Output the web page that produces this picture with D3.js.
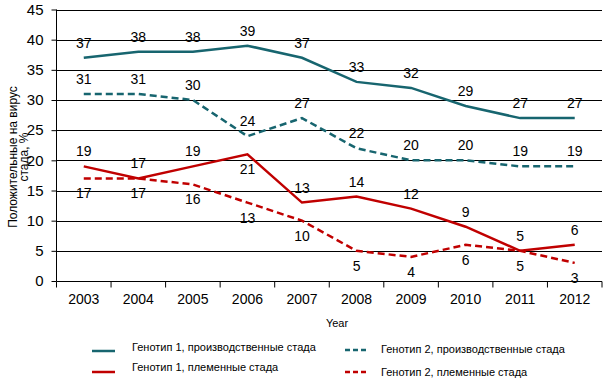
<!DOCTYPE html>
<html>
<head>
<meta charset="utf-8">
<script src="https://cdn.jsdelivr.net/npm/d3@7"></script>
<style>
  body { margin: 0; background: #fff; }
  svg text { font-family: "Liberation Sans", Arial, sans-serif; fill: #000; }
</style>
</head>
<body>
<div id="chart"></div>
<script>
// Data
const years = ["2003", "2004", "2005", "2006", "2007", "2008", "2009", "2010", "2011", "2012"];
const g1Prod = [37, 38, 38, 39, 37, 33, 32, 29, 27, 27];
const g2Prod = [31, 31, 30, 24, 27, 22, 20, 20, 19, 19];
const g1Breed = [19, 17, 19, 21, 13, 14, 12, 9, 5, 6];
const g2Breed = [17, 17, 16, 13, 10, 5, 4, 6, 5, 3];
const yTicks = [0, 5, 10, 15, 20, 25, 30, 35, 40, 45];

// label placement: -1 above, +1 below
const g1BreedPos = [-1, -1, -1, 1, -1, -1, -1, -1, -1, -1];

const teal = "#17656f";
const red = "#c00000";

const series = [
  { name: "Генотип 1, производственные стада", values: g1Prod, color: teal, dash: null, pos: years.map(() => -1) },
  { name: "Генотип 2, производственные стада", values: g2Prod, color: teal, dash: "7,4", pos: years.map(() => -1) },
  { name: "Генотип 1, племенные стада", values: g1Breed, color: red, dash: null, pos: g1BreedPos },
  { name: "Генотип 2, племенные стада", values: g2Breed, color: red, dash: "7,4", pos: years.map(() => 1) }
];

const W = 610, H = 386;
const plot = { left: 56.5, right: 602, top: 9.5, bottom: 281 };

const svg = d3.select("#chart").append("svg")
  .attr("width", W)
  .attr("height", H);

const x = d3.scaleBand().domain(years).range([plot.left, plot.right]);
const y = d3.scaleLinear().domain([0, 45]).range([plot.bottom, plot.top]);

// Gridlines
svg.append("g")
  .selectAll("line")
  .data(yTicks)
  .join("line")
  .attr("x1", plot.left).attr("x2", plot.right)
  .attr("y1", d => Math.round(y(d)) + 0.5).attr("y2", d => Math.round(y(d)) + 0.5)
  .attr("stroke", "#000").attr("stroke-width", 1);

// Y axis
const yAxis = svg.append("g")
  .attr("transform", `translate(${plot.left},0)`)
  .call(d3.axisLeft(y).tickValues(yTicks).tickSize(5).tickPadding(8));
yAxis.selectAll("text").style("font-size", "15px");
yAxis.select(".domain").remove();
yAxis.append("line").attr("x1", 0).attr("x2", 0)
  .attr("y1", plot.top).attr("y2", plot.bottom).attr("stroke", "#000");

// X axis
const xAxis = svg.append("g")
  .attr("transform", `translate(0,${Math.round(plot.bottom) + 0.5})`);
xAxis.selectAll("line")
  .data(years.concat(["end"]))
  .join("line")
  .attr("x1", (d, i) => plot.left + i * x.bandwidth())
  .attr("x2", (d, i) => plot.left + i * x.bandwidth())
  .attr("y1", 0).attr("y2", 6)
  .attr("stroke", "#000");
xAxis.selectAll("text")
  .data(years)
  .join("text")
  .attr("x", d => x(d) + x.bandwidth() / 2)
  .attr("y", 22)
  .attr("text-anchor", "middle")
  .style("font-size", "14px")
  .text(d => d);

// Axis titles
svg.append("text")
  .attr("x", 337).attr("y", 327)
  .attr("text-anchor", "middle")
  .style("font-size", "11px")
  .text("Year");

const yTitle = svg.append("text")
  .attr("transform", "translate(17,157) rotate(-90)")
  .attr("text-anchor", "middle")
  .style("font-size", "12px");
yTitle.append("tspan").attr("x", 0).attr("dy", 0).text("Положительные на вирус");
yTitle.append("tspan").attr("x", 0).attr("dy", 11).text("стада, %");

// Lines
const line = d3.line()
  .x((d, i) => x(years[i]) + x.bandwidth() / 2)
  .y(d => y(d));

svg.append("g")
  .selectAll("path")
  .data(series)
  .join("path")
  .attr("d", d => line(d.values))
  .attr("fill", "none")
  .attr("stroke", d => d.color)
  .attr("stroke-width", 2.5)
  .attr("stroke-dasharray", d => d.dash);

// Data labels
series.forEach(s => {
  svg.append("g")
    .selectAll("text")
    .data(s.values)
    .join("text")
    .attr("x", (d, i) => x(years[i]) + x.bandwidth() / 2)
    .attr("y", (d, i) => y(d) + s.pos[i] * 15 + 5)
    .attr("text-anchor", "middle")
    .style("font-size", "14px")
    .text(d => d);
});

// Legend
const legendItems = [
  { s: series[0], lx: 92, ty: 347, ly: 351 },
  { s: series[2], lx: 92, ty: 367, ly: 372 },
  { s: series[1], lx: 345, ty: 349, ly: 350 },
  { s: series[3], lx: 345, ty: 372, ly: 372 }
];
const legend = svg.append("g");
legendItems.forEach(item => {
  legend.append("line")
    .attr("x1", item.lx).attr("x2", item.lx + 23)
    .attr("y1", item.ly).attr("y2", item.ly)
    .attr("stroke", item.s.color)
    .attr("stroke-width", 2.5)
    .attr("stroke-dasharray", item.s.dash ? "5,3" : null);
  legend.append("text")
    .attr("x", item.lx + (item.s.dash ? 36 : 40))
    .attr("y", item.ty + 4)
    .style("font-size", "11px")
    .text(item.s.name);
});
</script>
</body>
</html>
